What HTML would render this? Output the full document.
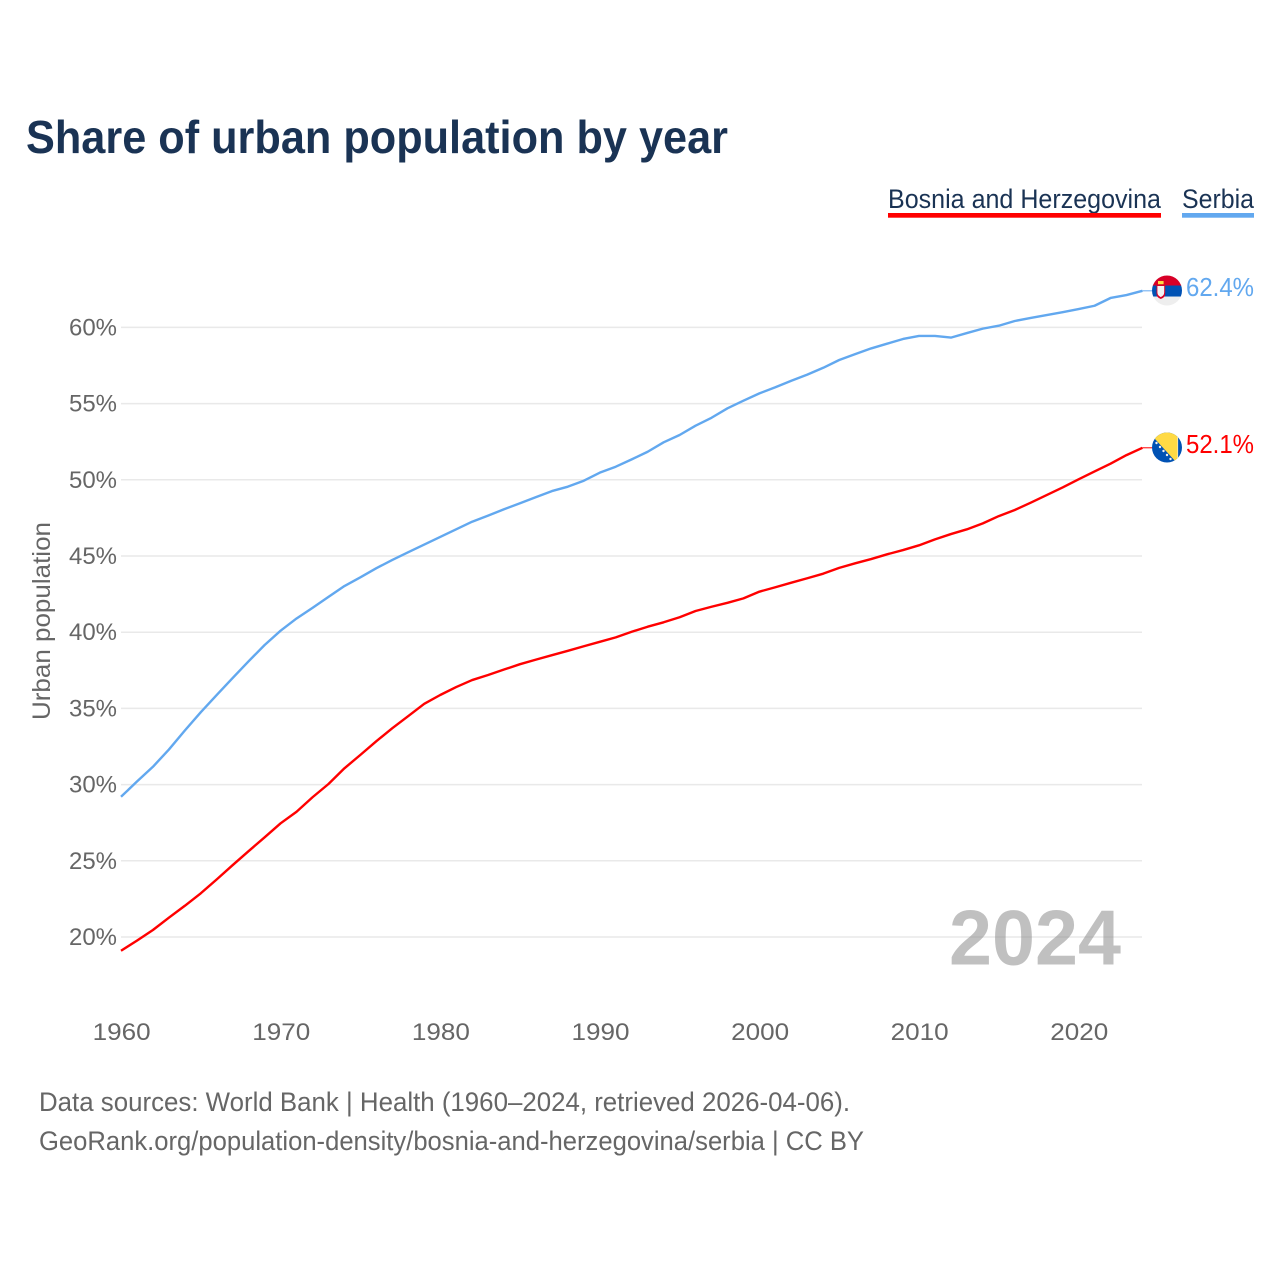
<!DOCTYPE html>
<html lang="en">
<head>
<meta charset="utf-8">
<title>Share of urban population by year</title>
<style>
html,body{margin:0;padding:0;background:#fff;width:1280px;height:1280px;overflow:hidden}
svg{display:block}
text{font-family:"Liberation Sans",sans-serif}
</style>
</head>
<body>
<svg id="chart" xmlns="http://www.w3.org/2000/svg" width="1280" height="1280" viewBox="0 0 1280 1280">
  <defs>
    <clipPath id="clip-rs"><circle cx="0" cy="0" r="15"/></clipPath>
    <clipPath id="clip-ba"><circle cx="0" cy="0" r="15"/></clipPath>
  </defs>
  <rect width="1280" height="1280" fill="#fff"/>
  <text x="26" y="153" font-size="46" font-weight="700" fill="#1a3354" textLength="702" lengthAdjust="spacingAndGlyphs">Share of urban population by year</text>

  <g>
    <text x="888" y="208" font-size="26.5" fill="#1a3354" textLength="273" lengthAdjust="spacingAndGlyphs">Bosnia and Herzegovina</text>
    <rect x="888" y="213" width="273" height="4.7" fill="#ff0000"/>
  </g>
  <g>
    <text x="1182" y="208" font-size="26.5" fill="#1a3354" textLength="72" lengthAdjust="spacingAndGlyphs">Serbia</text>
    <rect x="1182" y="213" width="72" height="4.7" fill="#62a8ef"/>
  </g>

  <g id="grid"></g>
  <g id="y-ticks"></g>
  <g id="x-ticks"></g>

  <text transform="translate(50,720) rotate(-90)" font-size="25" fill="#666" textLength="198" lengthAdjust="spacingAndGlyphs">Urban population</text>

  <text x="949" y="964.5" font-size="78" font-weight="700" fill="#8c8c8c" fill-opacity="0.55" textLength="172" lengthAdjust="spacingAndGlyphs">2024</text>

  <g id="series"></g>

  <g id="flag-rs">
    <g clip-path="url(#clip-rs)">
      <rect x="-15" y="-15" width="30" height="30" fill="#eeeeee"/>
      <rect x="-15" y="-15" width="30" height="10.5" fill="#d80027"/>
      <rect x="-15" y="-5" width="30" height="11" fill="#0052b4"/>
      <path d="M-10.5,-6 L-1.8,-6 L-1.8,3 Q-1.8,7 -6.2,8.5 Q-10.5,7 -10.5,3 Z" fill="#d80027"/>
      <path d="M-9.6,-4.5 L-2.8,-4.5 L-2.8,2 Q-2.8,5 -6.2,6.6 Q-9.6,5 -9.6,2 Z" fill="#f4f4f4"/>
      <rect x="-9" y="-9.5" width="5.6" height="3.2" fill="#ffda44"/>
    </g>
  </g>
  <g id="flag-ba">
    <g clip-path="url(#clip-ba)">
      <rect x="-15" y="-15" width="30" height="30" fill="#0052b4"/>
      <path d="M-18,-15 L10.5,-15 L10.5,15 L9.5,15 Z" fill="#ffda44"/>
      <rect x="10.5" y="-15" width="0.6" height="30" fill="#f0f0f0"/>
      <g fill="#f0f0f0">
        <circle cx="-10.5" cy="-4.5" r="1.2"/><circle cx="-7" cy="-0.5" r="1.2"/><circle cx="-3.5" cy="3.5" r="1.2"/><circle cx="0" cy="7.5" r="1.2"/><circle cx="3.5" cy="11.5" r="1.2"/>
      </g>
    </g>
  </g>
  <g id="end-labels"></g>

  <text x="39" y="1111" font-size="26.5" fill="#666" textLength="811" lengthAdjust="spacingAndGlyphs">Data sources: World Bank | Health (1960–2024, retrieved 2026-04-06).</text>
  <text x="39" y="1150" font-size="26.5" fill="#666" textLength="825" lengthAdjust="spacingAndGlyphs">GeoRank.org/population-density/bosnia-and-herzegovina/serbia | CC BY</text>
</svg>
<script>
const firstYear = 1960;
const yTickValues = [20, 25, 30, 35, 40, 45, 50, 55, 60];
const xTickValues = [1960, 1970, 1980, 1990, 2000, 2010, 2020];
const serbiaValues = [
  29.2,30.2,31.17,32.3,33.55,34.75,35.88,37.0,38.1,39.16,
  40.1,40.9,41.6,42.32,43.03,43.6,44.2,44.74,45.25,45.75,
  46.25,46.75,47.25,47.65,48.07,48.46,48.86,49.26,49.55,49.94,
  50.47,50.86,51.34,51.84,52.46,52.94,53.55,54.07,54.69,55.19,
  55.67,56.07,56.5,56.9,57.35,57.86,58.25,58.62,58.93,59.24,
  59.44,59.44,59.33,59.63,59.92,60.11,60.42,60.62,60.81,61.0,
  61.2,61.42,61.93,62.12,62.4
];
const bosniaValues = [
  19.1,19.76,20.46,21.27,22.05,22.87,23.78,24.72,25.64,26.54,
  27.46,28.22,29.17,30.04,31.07,31.95,32.85,33.7,34.5,35.3,
  35.88,36.4,36.86,37.19,37.55,37.9,38.2,38.49,38.78,39.08,
  39.37,39.66,40.03,40.36,40.65,40.98,41.39,41.67,41.93,42.22,
  42.66,42.95,43.25,43.54,43.84,44.22,44.52,44.8,45.11,45.39,
  45.7,46.09,46.44,46.75,47.14,47.62,48.02,48.5,49.0,49.5,
  50.03,50.55,51.06,51.62,52.1
];

const NS = 'http://www.w3.org/2000/svg';
const xScale = year => 121 + (year - 1960) * 15.96;
const yScale = value => 937 - (value - 20) * 15.24;
const lastX = xScale(firstYear + serbiaValues.length - 1);

function make(tag, attrs, parent, content) {
  const el = document.createElementNS(NS, tag);
  for (const key in attrs) el.setAttribute(key, attrs[key]);
  if (content !== undefined) el.textContent = content;
  parent.appendChild(el);
  return el;
}

const grid = document.getElementById('grid');
const yTicks = document.getElementById('y-ticks');
yTickValues.forEach(value => {
  const line = make('line', {x1: 121, x2: 1142, y1: yScale(value), y2: yScale(value), stroke: '#e9e9e9', 'stroke-width': 1.5}, grid);
  
  
  const label = make('text', {x: 117, y: yScale(value) + 8, 'text-anchor': 'end', 'font-size': 24.5, fill: '#666', textLength: 48, lengthAdjust: 'spacingAndGlyphs'}, yTicks, value + '%');
  
  
});

const xTicks = document.getElementById('x-ticks');
xTickValues.forEach(year => {
  const label = make('text', {x: xScale(year) + 0.7, y: 1040, 'text-anchor': 'middle', 'font-size': 24.5, fill: '#666', textLength: 58, lengthAdjust: 'spacingAndGlyphs'}, xTicks, String(year));
  
  
});

function linePath(values) {
  return values.map((v, i) => (i ? 'L' : 'M') + xScale(firstYear + i).toFixed(2) + ',' + yScale(v).toFixed(2)).join(' ');
}

const series = document.getElementById('series');
const bosniaLine = make('path', {d: linePath(bosniaValues), fill: 'none', stroke: '#ff0000', 'stroke-width': 2.4, 'stroke-linejoin': 'round'}, series);


const serbiaLine = make('path', {d: linePath(serbiaValues), fill: 'none', stroke: '#62a8ef', 'stroke-width': 2.4, 'stroke-linejoin': 'round'}, series);



const serbiaLast = serbiaValues[serbiaValues.length - 1];
const bosniaLast = bosniaValues[bosniaValues.length - 1];
const bosniaConnector = make('line', {x1: lastX, x2: 1153, y1: yScale(bosniaLast), y2: yScale(bosniaLast), stroke: '#ff0000', 'stroke-width': 1}, series);


const serbiaConnector = make('line', {x1: lastX, x2: 1153, y1: yScale(serbiaLast), y2: yScale(serbiaLast), stroke: '#62a8ef', 'stroke-width': 1}, series);



document.getElementById('flag-rs').setAttribute('transform', 'translate(1167,' + (yScale(serbiaLast) - 0.3) + ')');
document.getElementById('flag-ba').setAttribute('transform', 'translate(1167,' + (yScale(bosniaLast) - 0.3) + ')');

const endLabels = document.getElementById('end-labels');
const serbiaEnd = make('text', {x: 1186, y: yScale(serbiaLast) + 5, 'font-size': 25.5, fill: '#62a8ef', textLength: 68, lengthAdjust: 'spacingAndGlyphs'}, endLabels, serbiaLast.toFixed(1) + '%');


const bosniaEnd = make('text', {x: 1186, y: yScale(bosniaLast) + 5, 'font-size': 25.5, fill: '#ff0000', textLength: 68, lengthAdjust: 'spacingAndGlyphs'}, endLabels, bosniaLast.toFixed(1) + '%');


</script>
</body>
</html>
